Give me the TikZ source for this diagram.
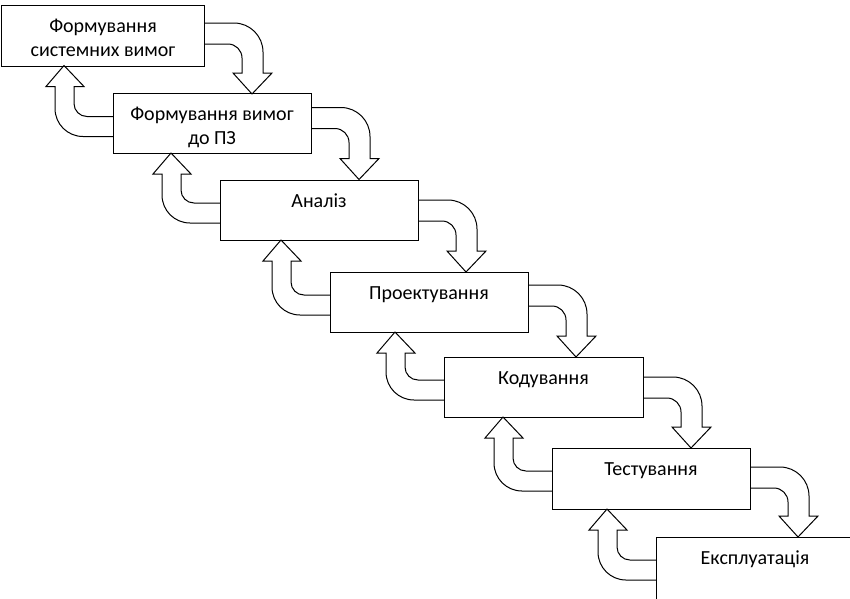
\documentclass[tikz,border=0pt]{standalone}
\usepackage{fontspec}
\setmainfont{Carlito}
\newcommand\fwdarr[3]{% #1 box, #2 outer offset from top, #3 offset of next box top
  \draw[blk, shift={(#1.north east)}]
    (0,#2) -- (30,#2) .. controls (46,#2) and (59,#2+13) .. (59,#2+29)
    -- (59,#3-21) -- (68,#3-21) -- (48,#3) -- (29,#3-21) -- (38,#3-21)
    -- (38,#2+35) .. controls (38,#2+27.3) and (31.7,#2+21) .. (24,#2+21)
    -- (0,#2+21);}
\newcommand\bwdarr[2]{% #1 box, #2 offset of previous box bottom
  \draw[blk, shift={(#1.north west)}]
    (0,23) -- (-26,23) .. controls (-33.2,23) and (-39,17.2) .. (-39,10)
    -- (-39,#2+21) -- (-29,#2+21) -- (-49,#2) -- (-67,#2+21) -- (-58,#2+21)
    -- (-58,15) .. controls (-58,30.5) and (-45.5,43) .. (-30,43) -- (0,43);}
\begin{document}
\begin{tikzpicture}[x=1pt,y=-1pt,
  box/.style={draw, line width=1pt, rectangle, minimum width=198pt, minimum height=60pt,
    inner sep=0pt, outer sep=0pt},
  lbl/.style={font=\fontsize{20}{23.5}\selectfont, inner sep=0pt, align=center},
  blk/.style={draw, line width=1pt, line join=miter}]
\useasboundingbox (0,0) rectangle (850,598);
\clip (0,0) rectangle (850,598);
\fill[white] (0,0) rectangle (850,598);
\node[box, minimum width=203pt, minimum height=61pt] (b1) at (102.5,35.5) {};
\node[box] (b2) at (212,123.5) {};
\node[box] (b3) at (319,210) {};
\node[box] (b4) at (429,302) {};
\node[box, minimum width=199pt] (b5) at (543.5,387) {};
\node[box, minimum height=61pt] (b6) at (651,478.5) {};
\node[box, minimum height=70pt] (b7) at (755,572) {};
\node[lbl, anchor=base] (t1) at (103,56) {Формування\\системних вимог};
\node[lbl, anchor=base] (t2) at (212,144) {Формування вимог\\до ПЗ};
\node[lbl, anchor=base] (t3) at (319,207) {Аналіз};
\node[lbl, anchor=base] (t4) at (429,299) {Проектування};
\node[lbl, anchor=base] (t5) at (543.5,384) {Кодування};
\node[lbl, anchor=base] (t6) at (651,475) {Тестування};
\node[lbl, anchor=base] (t7) at (755,564) {Експлуатація};
\fwdarr{b1}{18}{89}
\fwdarr{b2}{14}{86}
\fwdarr{b3}{20}{92}
\fwdarr{b4}{13}{85}
\fwdarr{b5}{20}{91}
\fwdarr{b6}{19}{89}
\bwdarr{b2}{-28}
\bwdarr{b3}{-27}
\bwdarr{b4}{-32}
\bwdarr{b5}{-25}
\bwdarr{b6}{-31}
\bwdarr{b7}{-28}
\end{tikzpicture}
\end{document}
